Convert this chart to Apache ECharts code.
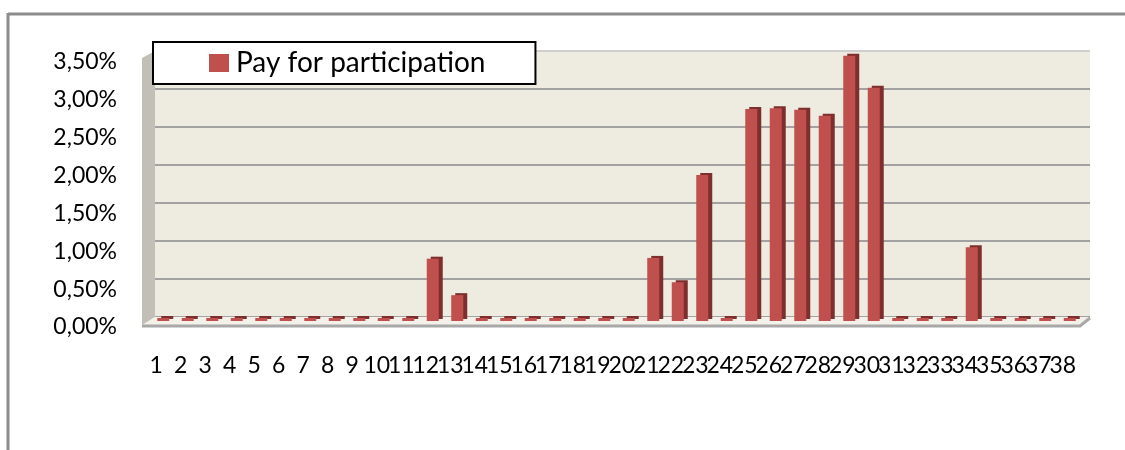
<!DOCTYPE html>
<html>
<head>
<meta charset="utf-8">
<script src="https://cdn.jsdelivr.net/npm/echarts@6/dist/echarts.min.js"></script>
<style>
  html, body { margin: 0; padding: 0; background: #fff; }
  #chart { width: 1125px; height: 450px; }
</style>
</head>
<body>
<div id="chart"></div>
<script>
// categories 1..38
const categories = ["1", "2", "3", "4", "5", "6", "7", "8", "9", "10",
  "11", "12", "13", "14", "15", "16", "17", "18", "19", "20",
  "21", "22", "23", "24", "25", "26", "27", "28", "29", "30",
  "31", "32", "33", "34", "35", "36", "37", "38"];
// percent values
const payValues = [0, 0, 0, 0, 0, 0, 0, 0, 0, 0,
  0, 0.82, 0.34, 0, 0, 0, 0, 0, 0, 0,
  0.83, 0.51, 1.92, 0, 2.79, 2.80, 2.78, 2.70, 3.49, 3.07,
  0, 0, 0, 0.97, 0, 0, 0, 0];
const seriesName = "Pay for participation";
const yMin = 0;
const yMax = 3.5;
const yStep = 0.5;

const font = "Lato";
const chart = echarts.init(document.getElementById("chart"));

function pct(v) {
  return v.toFixed(2).replace(".", ",") + "%";
}

const option = {
  animation: false,
  legend: {
    data: [seriesName],
    left: 153,
    top: 42,
    padding: [7, 50, 7, 56],
    itemWidth: 20,
    itemHeight: 18,
    icon: "rect",
    backgroundColor: "#fff",
    borderColor: "#000",
    borderWidth: 2,
    selectedMode: false,
    textStyle: { fontFamily: font, fontSize: 28, color: "#000", padding: [0, 0, 0, 2] },
  },
  grid: [
    // back wall with grid lines
    { left: 155, right: 35, top: 51, bottom: 133, show: true, backgroundColor: "#eeebe0", borderWidth: 0 },
    // bars
    { left: 151, right: 43, top: 55, bottom: 129 },
    // front labels for the value axis
    { left: 155, right: 35, top: 62, bottom: 123 },
  ],
  xAxis: [
    { gridIndex: 0, type: "category", data: categories, show: false },
    {
      gridIndex: 1,
      type: "category",
      data: categories,
      axisLine: { show: false },
      axisTick: { show: false },
      axisLabel: {
        interval: 0,
        margin: 33,
        padding: [0, 14, 0, 0],
        fontFamily: font,
        fontSize: 23,
        color: "#000",
      },
    },
    { gridIndex: 2, type: "category", data: categories, show: false },
  ],
  yAxis: [
    {
      gridIndex: 0,
      min: yMin, max: yMax, interval: yStep,
      axisLabel: { show: false },
      axisLine: { show: false },
      axisTick: { show: false },
      splitLine: {
        lineStyle: {
          color: ["#a2a2a2", "#a2a2a2", "#a2a2a2", "#a2a2a2", "#a2a2a2", "#a2a2a2", "#a2a2a2", "#cfcfcf"],
          width: 2,
        },
      },
    },
    { gridIndex: 1, min: yMin, max: yMax, interval: yStep, show: false, splitLine: { show: false } },
    {
      gridIndex: 2,
      min: yMin, max: yMax, interval: yStep,
      axisLine: { show: false },
      axisTick: { show: false },
      splitLine: { show: false },
      axisLabel: {
        margin: 38,
        fontFamily: font,
        fontSize: 23,
        color: "#000",
        formatter: pct,
      },
    },
  ],
  graphic: [
    // outer frame
    { type: "line", z: 10, shape: { x1: 8, y1: 14, x2: 1125, y2: 14 }, style: { stroke: "#8c8c8c", lineWidth: 3 } },
    { type: "line", z: 10, shape: { x1: 8, y1: 13, x2: 8, y2: 450 }, style: { stroke: "#8c8c8c", lineWidth: 3 } },
    // side wall
    { type: "polygon", z: 1, shape: { points: [[142, 58], [155, 51], [155, 317], [142, 326]] }, style: { fill: "#c2bfb6" } },
    // floor
    { type: "polygon", z: 1, shape: { points: [[155, 317], [1090, 317], [1080, 325], [142, 325]] }, style: { fill: "#f3f1ea" } },
    { type: "polyline", z: 1, shape: { points: [[142, 326], [1080, 326], [1090, 318]] }, style: { stroke: "#a8a8a8", lineWidth: 3, fill: null } },
  ],
  series: [
    {
      name: seriesName,
      type: "bar",
      xAxisIndex: 1,
      yAxisIndex: 1,
      data: payValues,
      barWidth: 12,
      barMinHeight: 3,
      z: 3,
      itemStyle: {
        color: "#c0504d",
        shadowColor: "#7d2f2d",
        shadowOffsetX: 4,
        shadowOffsetY: -2,
        shadowBlur: 0,
      },
    },
  ],
};
chart.setOption(option);
</script>
</body>
</html>
